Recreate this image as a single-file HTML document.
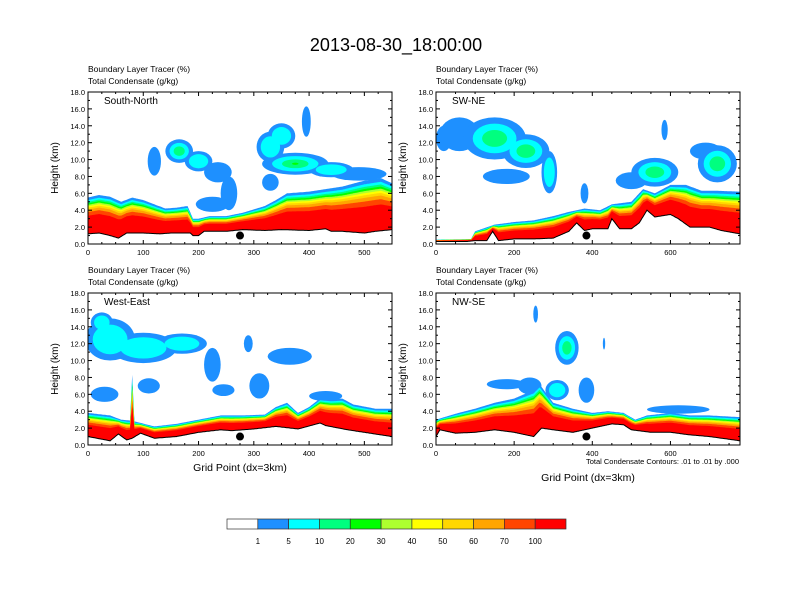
<!DOCTYPE html>
<html><head><meta charset="utf-8"><style>
body{margin:0;background:#fff;}
svg{display:block;font-family:"Liberation Sans",sans-serif;}
</style></head><body>
<svg id="c" width="792" height="612" viewBox="0 0 792 612">
<text x="396" y="51" font-size="18" text-anchor="middle">2013-08-30_18:00:00</text>
</svg>
<script>
const levelColors=['#ffffff','#1e90ff','#00ffff','#00ff7f','#00ff00','#adff2f','#ffff00','#ffd700','#ffa500','#ff4500','#ff0000'];
const levelLabels=['1','5','10','20','30','40','50','60','70','100'];
const bandFracs=[1.0,0.93,0.88,0.84,0.8,0.76,0.72,0.67,0.6,0.5];
const yTicks=[0,2,4,6,8,10,12,14,16,18];

const p1TerrX=[0,20,40,55,70,100,130,150,185,190,200,210,250,280,320,350,400,430,440,460,500,520,550];
const p1Terr=[1.2,1.3,1.0,0.7,1.3,1.3,1.2,1.3,1.3,1.0,1.0,1.5,1.5,1.7,1.6,1.7,1.6,1.8,1.5,1.5,1.3,1.5,1.7];
const p1TopX=[0,20,40,60,80,100,120,140,160,180,190,200,220,250,280,300,320,340,360,400,430,460,500,530,550];
const p1Top=[5.5,5.8,5.6,5.0,5.5,5.2,4.7,4.2,4.3,4.5,3.0,3.0,3.3,3.3,3.7,4.1,4.5,5.2,6.0,6.2,6.5,6.8,7.5,7.8,7.2];
const p1Clouds=[[120,9.8,12,1.7,1],[165,11,25,1.4,3],[200,9.8,25,1.2,2],[235,8.5,25,1.2,1],[255,6,15,2,1],[225,4.7,30,0.9,1],[330,11.5,25,1.8,2],[350,12.8,25,1.5,2],[375,9.5,60,1.3,4],[440,8.8,40,0.9,2],[490,8.3,50,0.8,1],[395,14.5,8,1.8,1],[330,7.3,15,1.0,1]];

const p2TerrX=[0,80,100,130,145,160,200,250,300,340,360,380,400,440,450,470,500,520,540,560,600,620,650,700,730,778];
const p2Terr=[0.3,0.3,0.4,0.4,1.5,0.4,0.6,0.6,0.7,1.5,2.5,1.6,1.8,1.8,3.0,1.8,1.8,2.5,4.0,3.2,3.5,3.0,2.0,2.0,1.6,1.2];
const p2TopX=[0,90,100,150,200,250,300,340,380,420,450,500,530,560,600,640,680,720,778];
const p2Top=[0.5,0.6,1.5,2.3,2.6,2.8,3.3,3.8,4.2,4.0,4.7,5.0,6.5,6.0,7.0,7.0,6.3,6.3,6.2];
const p2Clouds=[[20,12.5,20,1.5,1],[60,13,50,2,1],[150,12.5,80,2.5,3],[230,11,60,2,3],[290,8.5,20,2.5,2],[180,8,60,0.9,1],[380,6,10,1.2,1],[560,8.5,60,1.7,3],[500,7.5,40,1,1],[720,9.5,50,2.2,3],[690,11,40,1,1],[585,13.5,8,1.2,1]];

const p3TerrX=[0,40,55,70,80,95,120,160,200,240,260,300,340,380,420,430,470,500,550];
const p3Terr=[1.0,0.5,1.3,0.6,0.8,1.4,0.8,1.0,1.5,1.8,1.7,1.9,2.2,1.9,2.6,2.3,1.8,1.5,1.0];
const p3TopX=[0,40,60,76,80,84,120,160,200,240,280,320,340,360,380,400,420,440,460,480,520,550];
const p3Top=[3.8,3.5,3.0,2.9,8.3,2.8,2.2,2.5,3.0,3.5,3.5,3.6,4.5,5.0,3.8,4.5,5.5,5.4,5.5,4.8,4.3,4.3];
const p3Clouds=[[40,12.5,45,2.5,2],[100,11.5,60,1.8,2],[170,12,45,1.2,2],[25,14.5,20,1.2,2],[30,6,25,0.9,1],[110,7,20,0.9,1],[225,9.5,15,2,1],[290,12,8,1,1],[310,7,18,1.5,1],[245,6.5,20,0.7,1],[365,10.5,40,1,1],[430,5.8,30,0.6,1]];

const p4TerrX=[0,10,50,100,150,200,250,270,300,350,400,450,480,500,550,600,650,700,778];
const p4Terr=[1.0,1.8,1.4,1.5,1.8,1.5,1.0,2.0,1.8,1.5,2.0,2.5,2.4,1.8,1.5,1.5,1.2,1.0,0.5];
const p4TopX=[0,50,100,150,200,250,265,300,350,400,440,480,510,540,600,650,700,778];
const p4Top=[3.0,3.7,4.3,5.0,5.5,6.5,7.2,5.0,4.3,3.8,4.0,3.8,3.0,3.5,3.8,3.5,3.5,3.3];
const p4Clouds=[[180,7.2,50,0.6,1],[240,7,30,1,1],[310,6.5,30,1.2,2],[335,11.5,30,2,3],[255,15.5,6,1,1],[385,6.5,20,1.5,1],[620,4.2,80,0.5,1],[430,12,3,0.7,1]];

const NS='http://www.w3.org/2000/svg';
const svg=document.getElementById('c');
function mk(tag,attrs,parent){const e=document.createElementNS(NS,tag);for(const k in attrs)e.setAttribute(k,attrs[k]);(parent||svg).appendChild(e);return e;}
function interp(xs,ys,x){if(x<=xs[0])return ys[0];for(let i=1;i<xs.length;i++){if(x<=xs[i]){const t=(x-xs[i-1])/(xs[i]-xs[i-1]);return ys[i-1]+t*(ys[i]-ys[i-1]);}}return ys[ys.length-1];}

const panels=[
 {name:'South-North',x0:88,x1:392,top:92,bot:244,gmax:550,xstep:100,terrX:p1TerrX,terr:p1Terr,topX:p1TopX,topV:p1Top,clouds:p1Clouds,dot:275,xlabel:0},
 {name:'SW-NE',x0:436,x1:740,top:92,bot:244,gmax:778,xstep:200,terrX:p2TerrX,terr:p2Terr,topX:p2TopX,topV:p2Top,clouds:p2Clouds,dot:385,xlabel:0},
 {name:'West-East',x0:88,x1:392,top:293,bot:445,gmax:550,xstep:100,terrX:p3TerrX,terr:p3Terr,topX:p3TopX,topV:p3Top,clouds:p3Clouds,dot:275,xlabel:26},
 {name:'NW-SE',x0:436,x1:740,top:293,bot:445,gmax:778,xstep:200,terrX:p4TerrX,terr:p4Terr,topX:p4TopX,topV:p4Top,clouds:p4Clouds,dot:385,xlabel:36}
];

panels.forEach((p,pi)=>{
  const g=mk('g',{});
  
  
  const X=v=>p.x0+v*(p.x1-p.x0)/p.gmax;
  const Y=z=>p.bot-z*(p.bot-p.top)/18;
  const cid='clip'+pi;
  const cp=mk('clipPath',{id:cid},g);mk('rect',{x:p.x0,y:p.top,width:p.x1-p.x0,height:p.bot-p.top},cp);
  const plot=mk('g',{'clip-path':'url(#'+cid+')'},g);
  for(let k=1;k<=4;k++){
    p.clouds.forEach(c=>{
      if(k>c[4])return;
      const s=1-(k-1)*0.3;
      const e=mk('ellipse',{cx:X(c[0]),cy:Y(c[1]),rx:Math.abs(X(c[2]*s)-X(0)),ry:Math.abs(Y(0)-Y(c[3]*s)),fill:levelColors[k]},plot);
      
      
    });
  }
  const xsSet=new Set();for(let v=0;v<=p.gmax;v+=2)xsSet.add(v);p.topX.forEach(v=>xsSet.add(v));p.terrX.forEach(v=>xsSet.add(v));
  const xs=[...xsSet].sort((a,b)=>a-b);
  bandFracs.forEach((f,bi)=>{
    let d='';
    xs.forEach((v,i)=>{const t=interp(p.terrX,p.terr,v),tp=Math.max(t,interp(p.topX,p.topV,v));d+=(i?'L':'M')+X(v).toFixed(1)+','+Y(t+(tp-t)*f).toFixed(1);});
    for(let i=xs.length-1;i>=0;i--){d+='L'+X(xs[i]).toFixed(1)+','+Y(interp(p.terrX,p.terr,xs[i])).toFixed(1);}
    const b=mk('path',{d:d+'Z',fill:levelColors[bi+1]},plot);
    
    
  });
  let td='';xs.forEach((v,i)=>{td+=(i?'L':'M')+X(v).toFixed(1)+','+Y(interp(p.terrX,p.terr,v)).toFixed(1);});
  const tl=mk('path',{d:td,fill:'none',stroke:'#000','stroke-width':1},plot);
  
  
  const dot=mk('circle',{cx:X(p.dot),cy:Y(1.0),r:4,fill:'#000'},plot);
  
  
  mk('rect',{x:p.x0,y:p.top,width:p.x1-p.x0,height:p.bot-p.top,fill:'none',stroke:'#000','stroke-width':1},g);
  yTicks.forEach(z=>{
    mk('line',{x1:p.x0,x2:p.x0+4,y1:Y(z),y2:Y(z),stroke:'#000'},g);
    mk('line',{x1:p.x1,x2:p.x1-4,y1:Y(z),y2:Y(z),stroke:'#000'},g);
    if(z<18){mk('line',{x1:p.x0,x2:p.x0+2,y1:Y(z+1),y2:Y(z+1),stroke:'#000'},g);mk('line',{x1:p.x1,x2:p.x1-2,y1:Y(z+1),y2:Y(z+1),stroke:'#000'},g);}
    const t=mk('text',{x:p.x0-3,y:Y(z)+3,'font-size':7.5,'text-anchor':'end'},g);t.textContent=z.toFixed(1);
    
    
  });
  for(let v=0;v<=p.gmax;v+=p.xstep/4){
    const major=v%p.xstep===0,L=major?4:2;
    mk('line',{x1:X(v),x2:X(v),y1:p.bot,y2:p.bot-L,stroke:'#000'},g);
    mk('line',{x1:X(v),x2:X(v),y1:p.top,y2:p.top+L,stroke:'#000'},g);
    if(major){const t=mk('text',{x:X(v),y:p.bot+11,'font-size':7.5,'text-anchor':'middle'},g);t.textContent=v;
      
      }
  }
  const yt=mk('text',{x:0,y:0,'font-size':10,'text-anchor':'middle',transform:'translate('+(p.x0-30)+','+((p.top+p.bot)/2)+') rotate(-90)'},g);yt.textContent='Height (km)';
  
  
  const nm=mk('text',{x:p.x0+16,y:p.top+12,'font-size':10},g);nm.textContent=p.name;
  
  
  const s1=mk('text',{x:p.x0,y:p.top-20,'font-size':8.5},g);s1.textContent='Boundary Layer Tracer   (%)';
  
  
  const s2=mk('text',{x:p.x0,y:p.top-8,'font-size':8.5},g);s2.textContent='Total Condensate   (g/kg)';
  
  
  if(p.xlabel){
    const xt=mk('text',{x:(p.x0+p.x1)/2,y:p.bot+p.xlabel,'font-size':10.5,'text-anchor':'middle'},g);xt.textContent='Grid Point (dx=3km)';
    
    
  }
});
const note=mk('text',{x:739,y:464,'font-size':7.5,'text-anchor':'end'});note.textContent='Total Condensate Contours: .01 to .01 by .000';


const cb=mk('g',{});


const cbx0=227,cbx1=566,bw=(cbx1-cbx0)/levelColors.length;
levelColors.forEach((c,i)=>{
  const r=mk('rect',{x:cbx0+i*bw,y:519,width:bw,height:10,fill:c,stroke:'#333','stroke-width':0.7},cb);
  
  
});
levelLabels.forEach((l,i)=>{
  const t=mk('text',{x:cbx0+(i+1)*bw,y:544,'font-size':8,'text-anchor':'middle'},cb);t.textContent=l;
  
  
});
</script>
</body></html>
